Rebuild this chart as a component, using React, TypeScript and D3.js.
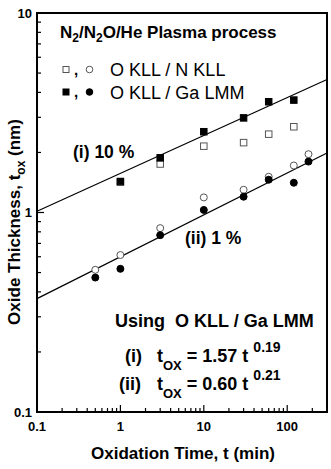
import { useEffect, useRef } from "react";
import * as d3 from "d3";

// oxidation times (min)
const timesHigh = [1, 3, 10, 30, 60, 120];
const timesLow = [0.5, 1, 3, 10, 30, 60, 120, 180];

// (i) 10 %
const nkllHigh = [1.42, 1.75, 2.15, 2.24, 2.47, 2.69];
const galmmHigh = [1.43, 1.88, 2.54, 2.98, 3.59, 3.66];

// (ii) 1 %
const nkllLow = [0.516, 0.612, 0.835, 1.19, 1.3, 1.51, 1.72, 1.96];
const galmmLow = [0.472, 0.522, 0.77, 1.03, 1.2, 1.46, 1.41, 1.8];

// fits t_ox = a * t^b
const fits = [
  { a: 1.57, b: 0.19 },
  { a: 0.6, b: 0.21 },
];

const xTickLabels = ["0.1", "1", "10", "100"];
const yTickLabels = ["0.1", "1", "10"];

const W = 331;
const H = 469;
const margin = { top: 13, right: 4, bottom: 57, left: 37 };
const FONT = "'Liberation Sans', Arial, sans-serif";

const Chart = () => {
  const svgRef = useRef<SVGSVGElement | null>(null);

  useEffect(() => {
    if (!svgRef.current) return;
    const svg = d3.select(svgRef.current);
    svg.selectAll("*").remove();

    const iw = W - margin.left - margin.right;
    const ih = H - margin.top - margin.bottom;

    const x = d3.scaleLog().domain([0.1, 300]).range([0, iw]);
    const y = d3.scaleLog().domain([0.1, 10]).range([ih, 0]);

    const g = svg
      .append("g")
      .attr("transform", `translate(${margin.left},${margin.top})`);

    // minor + major ticks (inward)
    const xTicks = x.ticks().filter((t) => t > 0.1 && t < 300);
    g.selectAll(".xt")
      .data(xTicks)
      .join("line")
      .attr("x1", (d) => x(d))
      .attr("x2", (d) => x(d))
      .attr("y1", ih)
      .attr("y2", (d) => (xTickLabels.includes(String(d)) ? ih - 7 : ih - 4))
      .attr("stroke", "#000")
      .attr("stroke-width", 1.2);

    const yTicks = y.ticks().filter((t) => t > 0.1 && t < 10);
    g.selectAll(".yt")
      .data(yTicks)
      .join("line")
      .attr("y1", (d) => y(d))
      .attr("y2", (d) => y(d))
      .attr("x1", 0)
      .attr("x2", (d) => (yTickLabels.includes(String(d)) ? 7 : 4))
      .attr("stroke", "#000")
      .attr("stroke-width", 1.2);

    // frame
    g.append("rect")
      .attr("x", 0)
      .attr("y", 0)
      .attr("width", iw)
      .attr("height", ih)
      .attr("fill", "none")
      .attr("stroke", "#000")
      .attr("stroke-width", 2);

    // tick labels
    g.selectAll(".xl")
      .data(xTickLabels)
      .join("text")
      .attr("x", (d) => x(+d))
      .attr("y", ih + 19)
      .attr("text-anchor", "middle")
      .attr("font-family", FONT)
      .attr("font-weight", "bold")
      .attr("font-size", 13)
      .text((d) => d);

    g.selectAll(".yl")
      .data(yTickLabels)
      .join("text")
      .attr("x", -5)
      .attr("y", (d) => y(+d) + 4.5)
      .attr("text-anchor", "end")
      .attr("font-family", FONT)
      .attr("font-weight", "bold")
      .attr("font-size", 13)
      .text((d) => d);

    // fit lines
    const line = d3
      .line<number>()
      .x((t) => x(t))
      .y((t) => y(t));
    fits.forEach((f) => {
      const pts = [0.1, 300];
      g.append("path")
        .datum(pts)
        .attr("fill", "none")
        .attr("stroke", "#000")
        .attr("stroke-width", 1.2)
        .attr("d", line.y((t) => y(f.a * Math.pow(t, f.b))));
    });

    const s = 6.5;
    const drawSquares = (ts: number[], vs: number[], filled: boolean) => {
      g.append("g")
        .selectAll("rect")
        .data(ts)
        .join("rect")
        .attr("x", (d) => x(d) - s / 2)
        .attr("y", (_, i) => y(vs[i]) - s / 2)
        .attr("width", s)
        .attr("height", s)
        .attr("fill", filled ? "#000" : "#fff")
        .attr("stroke", filled ? "#000" : "#555")
        .attr("stroke-width", 1);
    };
    const drawCircles = (ts: number[], vs: number[], filled: boolean) => {
      g.append("g")
        .selectAll("circle")
        .data(ts)
        .join("circle")
        .attr("cx", (d) => x(d))
        .attr("cy", (_, i) => y(vs[i]))
        .attr("r", 3.5)
        .attr("fill", filled ? "#000" : "#fff")
        .attr("stroke", filled ? "#000" : "#555")
        .attr("stroke-width", 1);
    };
    drawSquares(timesHigh, nkllHigh, false);
    drawSquares(timesHigh, galmmHigh, true);
    drawCircles(timesLow, nkllLow, false);
    drawCircles(timesLow, galmmLow, true);

    // axis titles
    svg
      .append("text")
      .attr("x", 183)
      .attr("y", 459)
      .attr("text-anchor", "middle")
      .attr("font-family", FONT)
      .attr("font-weight", "bold")
      .attr("font-size", 17)
      .text("Oxidation Time, t (min)");

    const yt = svg
      .append("text")
      .attr("transform", "translate(20,222) rotate(-90)")
      .attr("text-anchor", "middle")
      .attr("font-family", FONT)
      .attr("font-weight", "bold")
      .attr("font-size", 17);
    yt.append("tspan").text("Oxide Thickness, t");
    yt.append("tspan").attr("font-size", 12).attr("dy", 5).text("ox");
    yt.append("tspan").attr("dy", -5).text(" (nm)");

    // title
    const title = svg
      .append("text")
      .attr("x", 60)
      .attr("y", 38)
      .attr("font-family", FONT)
      .attr("font-weight", "bold")
      .attr("font-size", 17);
    title.append("tspan").text("N");
    title.append("tspan").attr("font-size", 12).attr("dy", 4).text("2");
    title.append("tspan").attr("dy", -4).text("/N");
    title.append("tspan").attr("font-size", 12).attr("dy", 4).text("2");
    title.append("tspan").attr("dy", -4).text("O/He Plasma process");

    // legend
    const legendRows = [
      { label: "O KLL / N KLL", filled: false, yy: 69.5 },
      { label: "O KLL / Ga LMM", filled: true, yy: 92 },
    ];
    legendRows.forEach((r) => {
      const col = r.filled ? "#000" : "#555";
      svg
        .append("rect")
        .attr("x", 63)
        .attr("y", r.yy - 3)
        .attr("width", 6)
        .attr("height", 6)
        .attr("fill", r.filled ? "#000" : "#fff")
        .attr("stroke", col);
      svg
        .append("text")
        .attr("x", 74)
        .attr("y", r.yy + 5)
        .attr("font-family", FONT)
        .attr("font-weight", "bold")
        .attr("font-size", 15)
        .text(",");
      svg
        .append("circle")
        .attr("cx", 89.5)
        .attr("cy", r.yy)
        .attr("r", 3.3)
        .attr("fill", r.filled ? "#000" : "#fff")
        .attr("stroke", col);
      svg
        .append("text")
        .attr("x", 110)
        .attr("y", r.yy + 6.5)
        .attr("font-family", FONT)
        .attr("font-size", 18)
        .text(r.label);
    });

    // series labels
    svg
      .append("text")
      .attr("x", 73)
      .attr("y", 158)
      .attr("font-family", FONT)
      .attr("font-weight", "bold")
      .attr("font-size", 17.5)
      .text("(i) 10 %");
    svg
      .append("text")
      .attr("x", 185)
      .attr("y", 244)
      .attr("font-family", FONT)
      .attr("font-weight", "bold")
      .attr("font-size", 17.5)
      .text("(ii) 1 %");

    // fit equations
    svg
      .append("text")
      .attr("x", 115)
      .attr("y", 327)
      .attr("font-family", FONT)
      .attr("font-weight", "bold")
      .attr("font-size", 18)
      .attr("xml:space", "preserve")
      .text("Using  O KLL / Ga LMM");

    const eqs = [
      { tag: "(i)", x0: 125, yy: 362, a: "1.57", b: "0.19" },
      { tag: "(ii)", x0: 119, yy: 390, a: "0.60", b: "0.21" },
    ];
    eqs.forEach((e) => {
      svg
        .append("text")
        .attr("x", e.x0)
        .attr("y", e.yy)
        .attr("font-family", FONT)
        .attr("font-weight", "bold")
        .attr("font-size", 18)
        .text(e.tag);
      const t = svg
        .append("text")
        .attr("x", 157)
        .attr("y", e.yy)
        .attr("font-family", FONT)
        .attr("font-weight", "bold")
        .attr("font-size", 18)
        .attr("xml:space", "preserve");
      t.append("tspan").text("t");
      t.append("tspan").attr("font-size", 13).attr("dy", 8).text("OX");
      t.append("tspan").attr("dy", -8).text(` = ${e.a} t `);
      t.append("tspan").attr("font-size", 14).attr("dy", -10).text(e.b);
    });
  }, []);

  return <svg ref={svgRef} width={W} height={H} style={{ display: "block" }} />;
};

export default function App() {
  return (
    <div style={{ position: "absolute", left: 0, top: 0, background: "#fff" }}>
      <Chart />
    </div>
  );
}
